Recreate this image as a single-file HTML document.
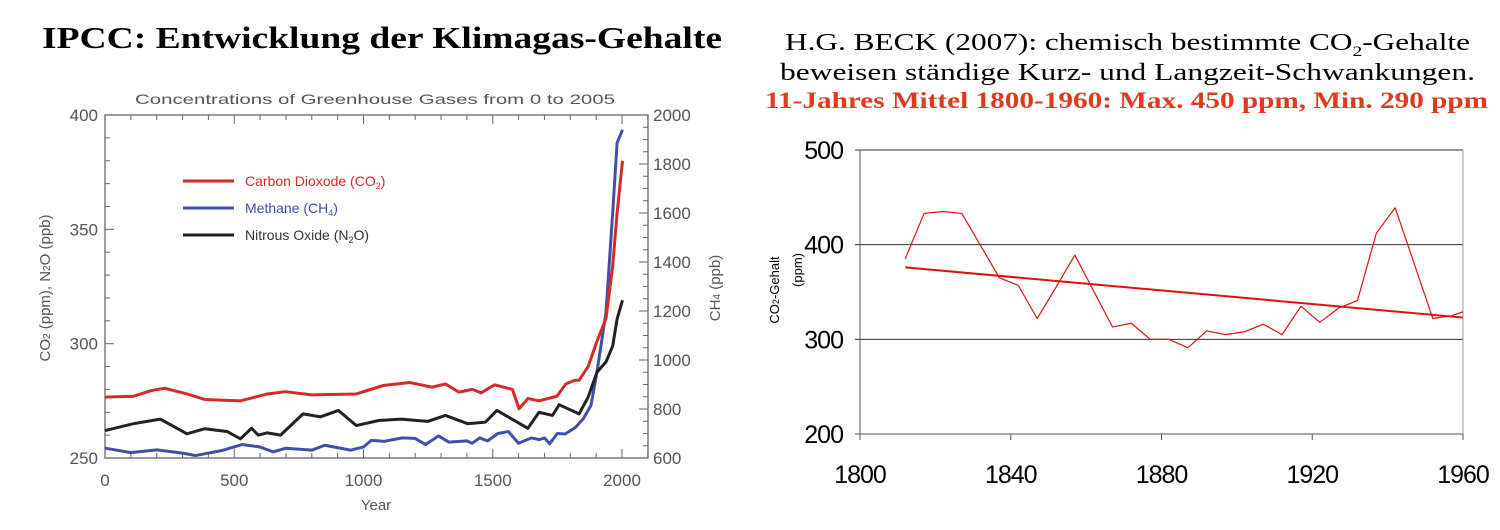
<!DOCTYPE html>
<html><head><meta charset="utf-8"><style>
body{margin:0;background:#fff;width:1500px;height:525px;overflow:hidden}
svg text{font-family:"Liberation Sans",sans-serif}
.serif{font-family:"Liberation Serif",serif}
</style></head><body>
<svg id="svg" width="1500" height="525" xmlns="http://www.w3.org/2000/svg">
<text class="serif" x="42" y="48" font-size="31" font-weight="bold" textLength="680" lengthAdjust="spacingAndGlyphs">IPCC: Entwicklung der Klimagas-Gehalte</text>
<text class="serif" x="785" y="50" font-size="24" textLength="685" lengthAdjust="spacingAndGlyphs">H.G. BECK (2007): chemisch bestimmte CO<tspan font-size="15" dy="6">2</tspan><tspan dy="-6">-Gehalte</tspan></text>
<text class="serif" x="780" y="80" font-size="24" textLength="695" lengthAdjust="spacingAndGlyphs">beweisen ständige  Kurz- und Langzeit-Schwankungen.</text>
<text class="serif" x="765" y="108" font-size="23" font-weight="bold" fill="#e03a1e" textLength="723" lengthAdjust="spacingAndGlyphs">11-Jahres Mittel 1800-1960: Max. 450 ppm, Min. 290 ppm</text>
<text x="375" y="104" font-size="14" fill="#555" text-anchor="middle" textLength="480" lengthAdjust="spacingAndGlyphs">Concentrations of Greenhouse Gases from 0 to 2005</text>
<g id="left"></g><g id="right"></g>
</svg>
<script>
// ---- left chart data ----
const co2Years=[0,110,179,231,317,386,524,628,697,800,972,1076,1179,1266,1317,1369,1421,1455,1507,1576,1602,1636,1679,1748,1783,1817,1834,1869,1903,1938,1964,1981,2002];
const co2Vals=[276.6,277,279.5,280.5,278,275.6,275,278,279,277.6,278,281.7,283,281,282.4,278.8,280,278.5,282,280,271.5,276,275,277,282.4,284,284,290,301,311,334,357,380];
const ch4Years=[0,100,200,300,350,450,530,600,650,700,800,850,950,1000,1030,1080,1150,1200,1240,1290,1330,1400,1420,1450,1480,1520,1560,1600,1650,1680,1700,1720,1750,1780,1820,1850,1880,1903,1938,1964,1981,2002];
const ch4Vals=[640,622,633,620,610,630,655,645,625,640,632,652,632,645,672,668,682,680,655,690,665,670,660,682,670,700,708,660,682,675,682,658,700,698,725,760,815,950,1194,1601,1886,1940];
const n2oYears=[0,110,214,317,386,472,524,567,593,628,679,766,834,903,972,1059,1145,1248,1317,1403,1472,1516,1559,1636,1679,1731,1757,1834,1869,1903,1938,1964,1981,2002];
const n2oVals=[262,265,267,260.6,262.8,261.6,258.4,263,260,261,260,269.3,268,270.8,264.2,266.4,267,266,268.6,265,265.7,270.8,268,263,270,268.6,273.3,269.3,276.6,287.5,292,299,310.8,319];
const leftYTicks=[250,300,350,400];
const rightYTicks=[600,800,1000,1200,1400,1600,1800,2000];
const leftXTicks=[0,500,1000,1500,2000];
// ---- right chart data ----
const beckYears=[1812,1817,1822,1827,1837,1842,1847,1852,1857,1867,1872,1877,1882,1887,1892,1897,1902,1907,1912,1917,1922,1927,1932,1937,1942,1952,1957,1960];
const beckVals=[385,433,435,433,365,357,322,355,389,313,317,300,300,291,309,305,308,316,305,335,318,333,341,412,439,322,325,329];
const trendYears=[1812,1960];
const trendVals=[376,323];
const beckYTicks=[200,300,400,500];
const beckXTicks=[1800,1840,1880,1920,1960];

const NS="http://www.w3.org/2000/svg";
function mk(p,tag,attrs){const e=document.createElementNS(NS,tag);for(const k in attrs)e.setAttribute(k,attrs[k]);p.appendChild(e);return e;}
// left axes
const L=document.getElementById('left');
const lx=y=>105+(y)*(622-105)/2000;
const ly=v=>458-(v-250)*(458-115)/150;
const ry=v=>458-(v-600)*(458-115)/1400;
let frame=mk(L,'rect',{x:105,y:115,width:543,height:343,fill:'none',stroke:'#666','stroke-width':1.3});


for(let y=0;y<=2100;y+=100){const big=y%500==0;mk(L,'line',{x1:lx(y),x2:lx(y),y1:458,y2:458-(big?9:5),stroke:'#666'});mk(L,'line',{x1:lx(y),x2:lx(y),y1:115,y2:115+(big?9:5),stroke:'#666'});}
for(let v=250;v<=400;v+=10){const big=v%50==0;mk(L,'line',{x1:105,x2:105+(big?9:5),y1:ly(v),y2:ly(v),stroke:'#666'});}
for(let v=600;v<=2000;v+=50){const big=v%200==0;mk(L,'line',{x1:648,x2:648-(big?9:5),y1:ry(v),y2:ry(v),stroke:'#666'});}
leftXTicks.forEach(t=>{const e=mk(L,'text',{x:lx(t),y:486,'font-size':17,fill:'#555','text-anchor':'middle'});e.textContent=t;

});
leftYTicks.forEach(t=>{const e=mk(L,'text',{x:98,y:ly(t)+6,'font-size':17,fill:'#555','text-anchor':'end'});e.textContent=t;

});
rightYTicks.forEach(t=>{const e=mk(L,'text',{x:653,y:ry(t)+6,'font-size':17,fill:'#555'});e.textContent=t;

});
let xt=mk(L,'text',{x:376,y:510,'font-size':15,fill:'#555','text-anchor':'middle'});xt.textContent='Year';


let yt=mk(L,'text',{transform:'translate(50,288) rotate(-90)','font-size':15,fill:'#555','text-anchor':'middle'});yt.innerHTML='CO<tspan font-size="10">2</tspan> (ppm), N<tspan font-size="10">2</tspan>O (ppb)';


let yt2=mk(L,'text',{transform:'translate(720,288) rotate(-90)','font-size':15,fill:'#555','text-anchor':'middle'});yt2.innerHTML='CH<tspan font-size="10">4</tspan> (ppb)';


function line(p,xs,ys,fx,fy,col,w){return mk(p,'polyline',{points:xs.map((x,i)=>fx(x)+','+fy(ys[i])).join(' '),fill:'none',stroke:col,'stroke-width':w,'stroke-linejoin':'round'});}
let s1=line(L,ch4Years,ch4Vals,lx,ry,'#4050a8',3);


let s2=line(L,n2oYears,n2oVals,lx,ly,'#222',3);


let s3=line(L,co2Years,co2Vals,lx,ly,'#d42a2a',3);


[['#d42a2a','Carbon Dioxode (CO','2',')',181],['#4050a8','Methane (CH','4',')',208],['#222','Nitrous Oxide (N','2','O)',235]].forEach(l=>{
 mk(L,'line',{x1:183,x2:234,y1:l[4],y2:l[4],stroke:l[0],'stroke-width':3});
 const e=mk(L,'text',{x:245,y:l[4]+5,'font-size':14,fill:l[0]==='#222'?'#333':l[0]});
 e.innerHTML=l[1]+'<tspan font-size="9" dy="3">'+l[2]+'</tspan><tspan dy="-3">'+l[3]+'</tspan>';
 
 
});
// right chart
const R=document.getElementById('right');
const bx=y=>860+(y-1800)*(1463-860)/160;
const by=v=>434-(v-200)*(434-150)/300;
beckYTicks.forEach(t=>{mk(R,'line',{x1:855,x2:1463,y1:by(t),y2:by(t),stroke:t==200?'#555':'#333','stroke-width':1});
 const e=mk(R,'text',{x:843,y:by(t)+9,'font-size':25,'text-anchor':'end','letter-spacing':'-1'});e.textContent=t;
 
 });
mk(R,'line',{x1:860,x2:860,y1:150,y2:440,stroke:'#555'});
mk(R,'line',{x1:1463,x2:1463,y1:150,y2:440,stroke:'#999'});
beckXTicks.forEach(t=>{mk(R,'line',{x1:bx(t),x2:bx(t),y1:434,y2:440,stroke:'#555'});
 const e=mk(R,'text',{x:bx(t),y:483,'font-size':25,'text-anchor':'middle','letter-spacing':'-1'});e.textContent=t;
 
 });
let bt=mk(R,'text',{transform:'translate(779,290) rotate(-90)','font-size':13,'text-anchor':'middle'});bt.innerHTML='CO<tspan font-size="9">2</tspan>-Gehalt';


let bt2=mk(R,'text',{transform:'translate(802,270) rotate(-90)','font-size':13,'text-anchor':'middle'});bt2.textContent='(ppm)';


let b1=line(R,beckYears,beckVals,bx,by,'#e01010',1.2);


let b2=line(R,trendYears,trendVals,bx,by,'#e01010',2);


</script>
</body></html>
